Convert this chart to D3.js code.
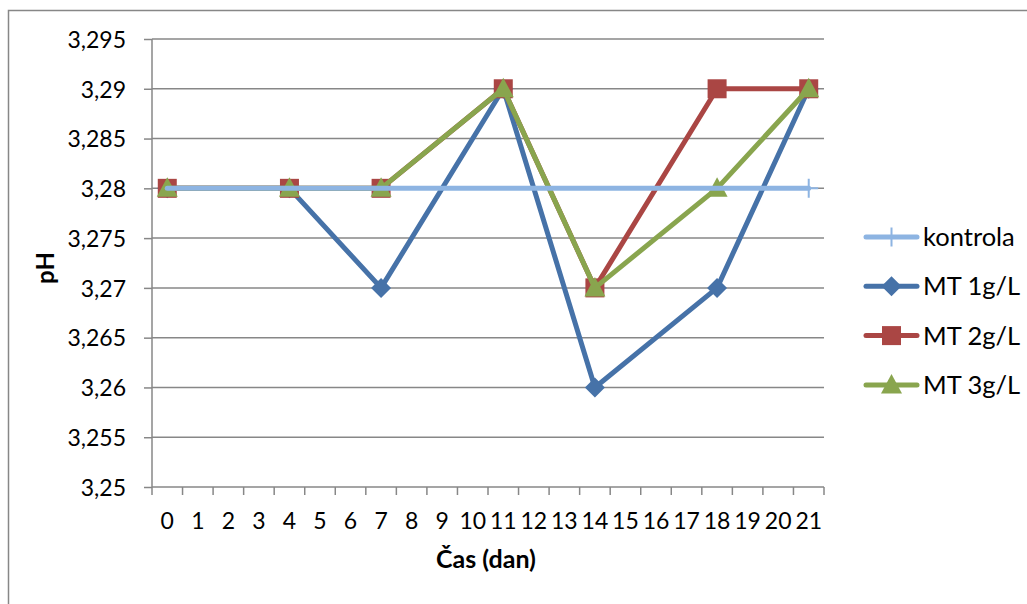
<!DOCTYPE html>
<html>
<head>
<meta charset="utf-8">
<script src="https://cdn.jsdelivr.net/npm/d3@7"></script>
<style>
  body { margin: 0; background: #fff; }
  svg { display: block; }
  text { font-family: Lato, "Open Sans", sans-serif; fill: #000; }
</style>
</head>
<body>
<svg id="chart" width="1027" height="604"></svg>
<script>
// Day categories on the x axis
const days = d3.range(0, 22).map(String);
// Days on which pH was measured
const sampleDays = ["0", "4", "7", "11", "14", "18", "21"];
// pH per series at the measured days
const kontrola = [3.28, 3.28, 3.28, 3.28, 3.28, 3.28, 3.28];
const mt1 = [3.28, 3.28, 3.27, 3.29, 3.26, 3.27, 3.29];
const mt2 = [3.28, 3.28, 3.28, 3.29, 3.27, 3.29, 3.29];
const mt3 = [3.28, 3.28, 3.28, 3.29, 3.27, 3.28, 3.29];
// Y tick values
const yTicks = [3.25, 3.255, 3.26, 3.265, 3.27, 3.275, 3.28, 3.285, 3.29, 3.295];

const series = [
  { name: "MT 1g/L", values: mt1, color: "#4672A8", marker: "diamond" },
  { name: "MT 2g/L", values: mt2, color: "#AA4644", marker: "square" },
  { name: "MT 3g/L", values: mt3, color: "#89A54E", marker: "triangle" },
  { name: "kontrola", values: kontrola, color: "#8DB4E2", marker: "plus" }
];
const legendOrder = ["kontrola", "MT 1g/L", "MT 2g/L", "MT 3g/L"];

const svg = d3.select("#chart");
const plotLeft = 152, plotRight = 824, plotTop = 39, plotBottom = 487;

const x = d3.scaleBand().domain(days).range([plotLeft, plotRight]);
const y = d3.scaleLinear().domain([3.25, 3.295]).range([plotBottom, plotTop]);

const gridColor = "#878787";

// Chart area frame
svg.append("rect")
  .attr("x", 8.5).attr("y", 10.5).attr("width", 1030).attr("height", 600)
  .attr("fill", "none").attr("stroke", gridColor).attr("stroke-width", 1.5);

// Horizontal gridlines
svg.append("g").selectAll("line").data(yTicks.slice(1)).join("line")
  .attr("x1", plotLeft).attr("x2", plotRight)
  .attr("y1", d => y(d)).attr("y2", d => y(d))
  .attr("stroke", gridColor).attr("stroke-width", 1.5);

// Y axis
const yAxis = svg.append("g").attr("transform", `translate(${plotLeft},0)`)
  .call(d3.axisLeft(y).tickValues(yTicks).tickSize(8).tickPadding(18)
    .tickFormat(d => String(+d.toFixed(3)).replace(".", ",")));
yAxis.selectAll("text").style("font-size", "23px").style("font-family", "Lato, sans-serif").attr("dy", "0.36em");
yAxis.selectAll("line, path").attr("stroke", gridColor).attr("stroke-width", 1.5);
yAxis.select("path").attr("d", `M0,${plotBottom}V${plotTop}`);

// X axis: ticks between categories
const xAxis = svg.append("g").attr("transform", `translate(0,${plotBottom})`);
xAxis.append("line").attr("x1", plotLeft).attr("x2", plotRight)
  .attr("stroke", gridColor).attr("stroke-width", 1.5);
const boundaries = days.map(d => x(d)).concat([plotRight]);
xAxis.selectAll(".tk").data(boundaries).join("line").attr("class", "tk")
  .attr("x1", d => d).attr("x2", d => d).attr("y1", 0).attr("y2", 8)
  .attr("stroke", gridColor).attr("stroke-width", 1.5);
xAxis.selectAll(".lbl").data(days).join("text").attr("class", "lbl")
  .attr("x", d => x(d) + x.bandwidth() / 2).attr("y", 42)
  .attr("text-anchor", "middle").style("font-size", "23px").text(d => d);

// Axis titles
svg.append("text").attr("x", 486).attr("y", 568).attr("text-anchor", "middle")
  .style("font-size", "25px").style("font-weight", "bold").text("Čas (dan)");
svg.append("text").attr("transform", "translate(54,268) rotate(-90)")
  .attr("text-anchor", "middle")
  .style("font-size", "24px").style("font-weight", "bold").text("pH");

// Marker shapes
function drawMarker(g, type, color) {
  if (type === "diamond") {
    g.append("path").attr("d", "M0,-10L10,0L0,10L-10,0Z").attr("fill", color);
  } else if (type === "square") {
    g.append("rect").attr("x", -9.5).attr("y", -9.5).attr("width", 19).attr("height", 19).attr("fill", color);
  } else if (type === "triangle") {
    g.append("path").attr("d", "M0,-11L10.5,8.5L-10.5,8.5Z").attr("fill", color);
  } else if (type === "plus") {
    g.append("path").attr("d", "M0,-9.5V9.5M-9.5,0H9.5").attr("stroke", color).attr("stroke-width", 2);
  }
}

const line = d3.line()
  .x((d, i) => x(sampleDays[i]) + x.bandwidth() / 2)
  .y(d => y(d));

series.forEach(s => {
  const g = svg.append("g");
  g.append("path").datum(s.values).attr("d", line)
    .attr("fill", "none").attr("stroke", s.color).attr("stroke-width", 5)
    .attr("stroke-linejoin", "round").attr("stroke-linecap", "round");
  const pts = s.marker === "plus" ? [s.values.length - 1] : d3.range(s.values.length);
  pts.forEach(i => {
    const m = g.append("g").attr("transform",
      `translate(${x(sampleDays[i]) + x.bandwidth() / 2},${y(s.values[i])})`);
    drawMarker(m, s.marker, s.color);
  });
});

// Legend
const leg = svg.append("g");
legendOrder.forEach((name, i) => {
  const s = series.find(t => t.name === name);
  const yy = 237 + i * 49.3;
  leg.append("line").attr("x1", 866).attr("x2", 917).attr("y1", yy).attr("y2", yy)
    .attr("stroke", s.color).attr("stroke-width", 5).attr("stroke-linecap", "round");
  drawMarker(leg.append("g").attr("transform", `translate(891.5,${yy})`), s.marker, s.color);
  leg.append("text").attr("x", 923).attr("y", yy).attr("dy", "0.36em")
    .style("font-size", "25.5px").text(name);
});
</script>
</body>
</html>
